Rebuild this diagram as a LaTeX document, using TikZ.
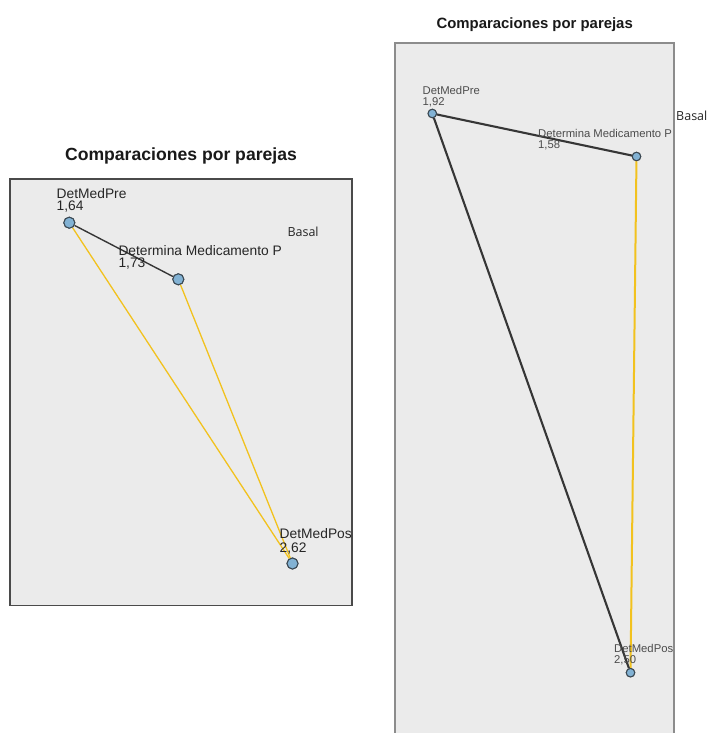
\documentclass[tikz,border=0pt]{standalone}
\usepackage{fontspec}
\setmainfont{Liberation Sans}
\newfontfamily\basalfont{Open Sans}
\definecolor{panelfill}{HTML}{EBEBEB}
\definecolor{panelline}{HTML}{4A4A4A}
\definecolor{nodefill}{HTML}{82B2D4}
\definecolor{nodeline}{HTML}{3B4852}
\definecolor{darkedge}{HTML}{363636}
\definecolor{goldedge}{HTML}{F2C21E}
\definecolor{labeltext}{HTML}{262626}
\begin{document}
\begin{tikzpicture}[x=1pt,y=-1pt,
  panel/.style={fill=panelfill,draw=panelline,line width=1.2pt},
  vertex/.style={circle,fill=nodefill,draw=nodeline,line width=1pt,inner sep=0pt,minimum size=#1},
  darklink/.style={draw=darkedge,line width=#1},
  goldlink/.style={draw=goldedge,line width=#1},
  lbl/.style={anchor=base west,inner sep=0pt,text=labeltext,font=\fontsize{#1}{#1}\selectfont},
  ttl/.style={anchor=base,inner sep=0pt,text=black!90,font=\fontsize{#1}{#1}\selectfont\bfseries},
  basal/.style={anchor=base west,inner sep=0pt,text=black!85,font=\fontsize{12.5}{12.5}\selectfont\basalfont}]
\useasboundingbox (0,0) rectangle (708,733);
\fill[white] (0,0) rectangle (708,733);

% ---------- left panel ----------
\node[ttl=17.6] (ltitle) at (181,160.7) {Comparaciones por parejas};
\draw[panel] (10,179) rectangle (352,605.5);

\node[vertex=11pt] (lpre) at (69.3,222.7) {};
\node[vertex=11pt] (ldet) at (178.3,279.3) {};
\node[vertex=11pt] (lpos) at (292.5,563.5) {};

\draw[goldlink=1.3pt] (lpre) -- (lpos);
\draw[goldlink=1.3pt] (ldet) -- (lpos);
\draw[darklink=1.4pt] (lpre) -- (ldet);

\node[lbl=13.8] (lpreA) at (56.5,198.3) {DetMedPre};
\node[lbl=13.8] (lpreB) at (56.5,210.8) {1,64};
\node[lbl=13.8] (ldetA) at (118.3,255) {Determina Medicamento P};
\node[lbl=13.8] (ldetB) at (118.3,267.3) {1,73};
\node[lbl=13.8] (lposA) at (279.5,538.3) {DetMedPos};
\node[lbl=13.8] (lposB) at (279.5,552.7) {2,62};
\node[basal] (lbasal) at (287.3,236.7) {Basal};

% redraw the nodes on top of the links
\node[vertex=11pt] at (lpre) {};
\node[vertex=11pt] at (ldet) {};
\node[vertex=11pt] at (lpos) {};

% ---------- right panel ----------
\node[ttl=14.9] (rtitle) at (534.7,28.3) {Comparaciones por parejas};
\draw[panel,draw=black!45,line width=1.6pt] (394.7,43) rectangle (674.2,740);

\node[vertex=8.5pt] (rpre) at (432.3,113.5) {};
\node[vertex=8.5pt] (rdet) at (636.5,156.5) {};
\node[vertex=8.5pt] (rpos) at (630.5,672.7) {};

\draw[goldlink=2pt] (rdet) -- (rpos);
\draw[darklink=2.1pt] (rpre) -- (rdet);
\draw[darklink=2.1pt] (rpre) -- (rpos);

\node[lbl=11.3,text=black!70] (rpreA) at (422.5,95) {DetMedPre};
\node[lbl=11.3,text=black!70] (rpreB) at (422.5,105.5) {1,92};
\node[lbl=11.3,text=black!70] (rdetA) at (538,137.5) {Determina Medicamento P};
\node[lbl=11.3,text=black!70] (rdetB) at (538,148) {1,58};
\node[lbl=11.3,text=black!70] (rposA) at (614,652.7) {DetMedPos};
\node[lbl=11.3,text=black!70] (rposB) at (614,663.3) {2,50};
\node[basal] (rbasal) at (676,120.7) {Basal};

\node[vertex=8.5pt] at (rpre) {};
\node[vertex=8.5pt] at (rdet) {};
\node[vertex=8.5pt] at (rpos) {};
\end{tikzpicture}
\end{document}
